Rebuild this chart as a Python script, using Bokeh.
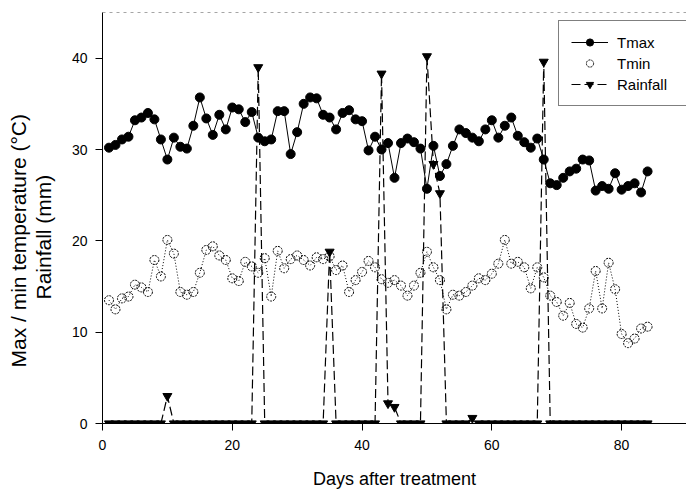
from bokeh.plotting import figure
from bokeh.models import Range1d, Legend, LegendItem, Title, FixedTicker, ColumnDataSource, Span
from bokeh.embed import file_html
from bokeh.resources import INLINE

days = list(range(1, 85))

tmax = [30.2, 30.5, 31.1, 31.4, 33.2, 33.5, 34.0, 33.3, 31.1, 28.9,
        31.3, 30.3, 30.1, 32.6, 35.7, 33.4, 31.6, 33.8, 32.2, 34.6,
        34.4, 33.0, 34.1, 31.3, 30.9, 31.1, 34.2, 34.2, 29.5, 31.9,
        35.0, 35.7, 35.6, 33.8, 33.5, 32.2, 34.0, 34.3, 33.3, 33.1,
        29.9, 31.4, 30.0, 30.7, 26.9, 30.7, 31.2, 30.8, 30.1, 25.7,
        30.4, 27.1, 28.4, 30.4, 32.2, 31.8, 31.3, 30.9, 32.2, 33.2,
        31.3, 32.6, 33.5, 31.5, 30.8, 30.2, 31.2, 28.9, 26.3, 26.1,
        26.9, 27.6, 27.9, 28.9, 28.8, 25.5, 26.0, 25.7, 27.4, 25.6,
        26.0, 26.3, 25.3, 27.6]

tmin = [13.5, 12.5, 13.7, 13.9, 15.2, 14.9, 14.4, 17.9, 16.1, 20.1,
        18.6, 14.4, 14.1, 14.4, 16.5, 19.0, 19.4, 18.4, 17.9, 15.9,
        15.6, 17.7, 17.2, 16.5, 18.1, 13.9, 18.9, 17.0, 18.0, 18.4,
        17.9, 17.3, 18.2, 18.0, 18.3, 16.8, 17.3, 14.4, 15.7, 16.6,
        17.8, 17.1, 15.8, 15.4, 15.7, 15.1, 14.0, 15.1, 16.5, 18.8,
        17.1, 15.7, 12.5, 14.1, 14.0, 14.4, 15.1, 15.9, 15.7, 16.4,
        17.5, 20.1, 17.5, 17.7, 17.1, 14.8, 17.1, 16.0, 14.0, 13.3,
        11.8, 13.2, 10.9, 10.5, 12.6, 16.7, 12.6, 17.6, 14.7, 9.8,
        8.8, 9.3, 10.4, 10.6]

rainfall = [0, 0, 0, 0, 0, 0, 0, 0, 0, 3.0,
            0, 0, 0, 0, 0, 0, 0, 0, 0, 0,
            0, 0, 0, 39.0, 0, 0, 0, 0, 0, 0,
            0, 0, 0, 0, 18.8, 0, 0, 0, 0, 0,
            0, 0, 38.3, 2.2, 1.8, 0, 0, 0, 0, 40.2,
            28.4, 25.2, 0, 0, 0, 0, 0.6, 0, 0, 0,
            0, 0, 0, 0, 0, 0, 0, 39.6, 0, 0,
            0, 0, 0, 0, 0, 0, 0, 0, 0, 0,
            0, 0, 0, 0]

x_ticks = [0, 20, 40, 60, 80]
y_ticks = [0, 10, 20, 30, 40]

FONT = "Liberation Sans"

p = figure(width=686, height=492, output_backend="svg", toolbar_location=None,
           x_range=Range1d(0, 90), y_range=Range1d(0, 45),
           min_border_left=102, min_border_right=0, min_border_top=12, min_border_bottom=69)
p.background_fill_color = "white"
p.border_fill_color = "white"
p.grid.visible = False
p.outline_line_color = None

top_line = Span(location=45, dimension="width", line_color="black", line_width=1,
                line_dash="3 4", line_alpha=0.7)
p.add_layout(top_line)

src = ColumnDataSource(dict(day=days, tmax=tmax, tmin=tmin, rain=rainfall))

r_rain_line = p.line("day", "rain", source=src, line_color="black", line_width=1.2, line_dash="9 4")
r_tmin_line = p.line("day", "tmin", source=src, line_color="black", line_width=1, line_dash="1 2")
r_tmin_pts = p.scatter("day", "tmin", source=src, marker="circle", size=9, fill_color="white",
                       fill_alpha=0, line_color="black", line_width=1, line_dash="2 1")
r_tmax_line = p.line("day", "tmax", source=src, line_color="black", line_width=1)
r_tmax_pts = p.scatter("day", "tmax", source=src, marker="circle", size=9, fill_color="black",
                       line_color="black")
r_rain_pts = p.scatter("day", "rain", source=src, marker="inverted_triangle", size=9,
                       fill_color="black", line_color="black")

for ax in (p.xaxis[0], p.yaxis[0]):
    ax.axis_line_color = "black"
    ax.axis_line_width = 1
    ax.major_tick_in = 0
    ax.major_tick_out = 7
    ax.minor_tick_in = 0
    ax.minor_tick_out = 0
    ax.major_label_text_font = FONT
    ax.major_label_text_font_size = "14px"
    ax.major_label_text_color = "black"
    ax.axis_label_text_font = FONT
    ax.axis_label_text_font_style = "normal"
    ax.axis_label_text_color = "black"

p.xaxis.ticker = FixedTicker(ticks=x_ticks)
p.yaxis.ticker = FixedTicker(ticks=y_ticks)
p.xaxis.major_label_standoff = 9
p.yaxis.major_label_standoff = 8
p.xaxis.axis_label = "Days after treatment"
p.xaxis.axis_label_text_font_size = "18px"
p.xaxis.axis_label_standoff = 16

# spacer between y tick labels and the two-line y title
p.yaxis.axis_label = " "
p.yaxis.axis_label_text_font_size = "2px"
p.yaxis.axis_label_standoff = 8

t_inner = Title(text="Rainfall (mm)", align="left", offset=124, text_font=FONT,
                text_font_size="21px", text_font_style="normal", text_color="black", standoff=1)
t_outer = Title(text="Max / min temperature (\u00b0C)", align="left", offset=56, text_font=FONT,
                text_font_size="21px", text_font_style="normal", text_color="black", standoff=0)
p.add_layout(t_inner, "left")
p.add_layout(t_outer, "left")

legend = Legend(items=[
    LegendItem(label="Tmax", renderers=[r_tmax_line, r_tmax_pts]),
    LegendItem(label="Tmin", renderers=[r_tmin_pts]),
    LegendItem(label="Rainfall", renderers=[r_rain_line, r_rain_pts]),
], location=(456, 317))
legend.label_text_font = FONT
legend.label_text_font_size = "15px"
legend.label_text_color = "black"
legend.glyph_width = 37
legend.glyph_height = 18
legend.label_height = 18
legend.label_width = 58
legend.spacing = 3
legend.padding = 12
legend.label_standoff = 9
legend.border_line_color = "black"
legend.border_line_width = 1
legend.background_fill_color = "white"
legend.background_fill_alpha = 1
p.add_layout(legend)

open("out.html", "w").write(file_html(p, INLINE))
